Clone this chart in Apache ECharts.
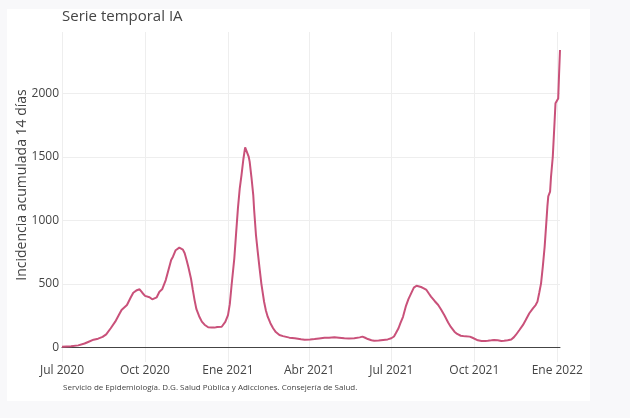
<!DOCTYPE html>
<html><head><meta charset="utf-8">
<script src="https://cdn.jsdelivr.net/npm/echarts@6/dist/echarts.min.js"></script>
<style>html,body{margin:0;padding:0;background:#f8f8fa;} #c{width:630px;height:418px;}</style>
</head><body><div id="c"></div>
<script>
const dates = ['2020-07-01','2020-07-11','2020-07-19','2020-07-26','2020-07-30','2020-08-05','2020-08-10','2020-08-15','2020-08-19','2020-08-24','2020-08-29','2020-09-02','2020-09-05','2020-09-11','2020-09-15','2020-09-18','2020-09-22','2020-09-25','2020-09-28','2020-10-01','2020-10-03','2020-10-06','2020-10-09','2020-10-11','2020-10-14','2020-10-17','2020-10-20','2020-10-24','2020-10-27','2020-10-30','2020-11-01','2020-11-04','2020-11-06','2020-11-08','2020-11-10','2020-11-12','2020-11-14','2020-11-16','2020-11-18','2020-11-21','2020-11-23','2020-11-25','2020-11-27','2020-11-30','2020-12-03','2020-12-06','2020-12-10','2020-12-14','2020-12-17','2020-12-20','2020-12-22','2020-12-25','2020-12-27','2020-12-29','2021-01-01','2021-01-03','2021-01-05','2021-01-08','2021-01-10','2021-01-12','2021-01-14','2021-01-16','2021-01-18','2021-01-20','2021-01-22','2021-01-24','2021-01-25','2021-01-27','2021-01-29','2021-01-30','2021-02-01','2021-02-03','2021-02-05','2021-02-07','2021-02-10','2021-02-12','2021-02-14','2021-02-17','2021-02-20','2021-02-23','2021-02-27','2021-03-03','2021-03-10','2021-03-16','2021-03-23','2021-03-27','2021-04-02','2021-04-07','2021-04-12','2021-04-18','2021-04-23','2021-04-29','2021-05-04','2021-05-10','2021-05-15','2021-05-21','2021-05-27','2021-05-30','2021-06-02','2021-06-05','2021-06-09','2021-06-12','2021-06-17','2021-06-22','2021-06-27','2021-07-01','2021-07-04','2021-07-06','2021-07-09','2021-07-11','2021-07-14','2021-07-17','2021-07-20','2021-07-23','2021-07-26','2021-07-29','2021-07-31','2021-08-03','2021-08-06','2021-08-09','2021-08-12','2021-08-14','2021-08-18','2021-08-22','2021-08-25','2021-08-29','2021-09-02','2021-09-05','2021-09-09','2021-09-12','2021-09-16','2021-09-21','2021-09-26','2021-09-29','2021-10-01','2021-10-05','2021-10-09','2021-10-13','2021-10-16','2021-10-20','2021-10-23','2021-10-27','2021-10-31','2021-11-03','2021-11-07','2021-11-11','2021-11-14','2021-11-16','2021-11-20','2021-11-24','2021-11-27','2021-12-01','2021-12-05','2021-12-08','2021-12-10','2021-12-12','2021-12-14','2021-12-16','2021-12-18','2021-12-20','2021-12-21','2021-12-22','2021-12-24','2021-12-25','2021-12-27','2021-12-29','2021-12-30','2022-01-01','2022-01-02','2022-01-03','2022-01-04'];
const values = [5,8,15,30,42,60,68,82,102,150,202,255,294,333,390,430,450,457,430,405,395,395,378,375,394,438,457,530,609,688,714,765,780,785,785,770,741,690,635,540,452,370,300,245,202,178,158,155,155,160,175,162,168,200,254,340,491,701,900,1095,1250,1358,1480,1575,1560,1500,1463,1340,1200,1080,885,750,622,500,359,290,241,190,150,120,97,88,76,71,63,60,62,65,70,76,76,79,76,71,70,71,78,84,75,65,55,52,53,58,62,71,85,110,150,189,240,320,380,425,470,485,491,475,465,452,420,399,365,333,300,250,195,160,123,105,91,86,84,75,65,55,50,50,52,55,58,55,50,52,56,62,80,97,136,176,215,268,307,333,360,430,504,640,793,1000,1108,1190,1226,1340,1502,1780,1923,1935,1960,2159,2343];
const tickDates = ['2020-07-01','2020-10-01','2021-01-01','2021-04-01','2021-07-01','2021-10-01','2022-01-01'];
const tickLabels = ['Jul 2020','Oct 2020','Ene 2021','Abr 2021','Jul 2021','Oct 2021','Ene 2022'];
const yTicks = [0,500,1000,1500,2000];
const titleText = 'Serie temporal IA';
const yTitle = 'Incidencia acumulada 14 días';
const footText = 'Servicio de Epidemiología. D.G. Salud Pública y Adicciones. Consejería de Salud.';

function ts(s){const p=s.split('-').map(Number);return Date.UTC(p[0],p[1]-1,p[2]);}
const tickTs = tickDates.map(ts);
const seriesData = dates.map((d,i)=>[ts(d), values[i]]);
const FONT = '"Open Sans", sans-serif';
const chart = echarts.init(document.getElementById('c'), null, {renderer:'canvas'});
chart.setOption({
  animation:false,
  backgroundColor:'#f8f8fa',
  grid:{left:62,right:70,top:32,bottom:56,containLabel:false},
  xAxis:{type:'value',min:ts('2020-07-01'),max:ts('2022-01-04'),scale:true,
    axisLine:{onZero:true,lineStyle:{color:'#444',width:1}},
    axisTick:{show:false,customValues:tickTs},
    axisLabel:{customValues:tickTs,color:'#444',fontSize:12,margin:3,fontFamily:FONT,
      formatter:function(v){let best=0,bd=Infinity;tickTs.forEach((t,i)=>{const d=Math.abs(t-v);if(d<bd){bd=d;best=i;}});return tickLabels[best];}},
    splitLine:{show:true,lineStyle:{color:'#eeeeee',width:1}}},
  yAxis:{type:'value',min:-116,max:2485,
    axisLine:{show:false},
    axisTick:{show:false,customValues:yTicks},
    axisLabel:{customValues:yTicks,color:'#444',fontSize:12,margin:3,fontFamily:FONT,formatter:function(v){return String(v);}},
    splitLine:{show:true,lineStyle:{color:'#eeeeee',width:1}}},
  graphic:[
    {type:'rect',z:-10,silent:true,shape:{x:7,y:9,width:583,height:392},style:{fill:'#ffffff'}},
    {type:'text',x:62,y:17,style:{text:titleText,align:'left',verticalAlign:'middle',fontSize:15,fill:'#444',fontFamily:FONT}},
    {type:'text',x:22,y:185,rotation:Math.PI/2,style:{text:yTitle,align:'center',verticalAlign:'middle',fontSize:14,fill:'#444',fontFamily:FONT}},
    {type:'text',x:63,y:388,style:{text:footText,align:'left',verticalAlign:'middle',fontSize:8,fill:'#444',fontFamily:FONT}}
  ],
  series:[{type:'line',data:seriesData,showSymbol:false,symbol:'none',lineStyle:{color:'#c9517a',width:2},z:3}]
});
</script></body></html>
